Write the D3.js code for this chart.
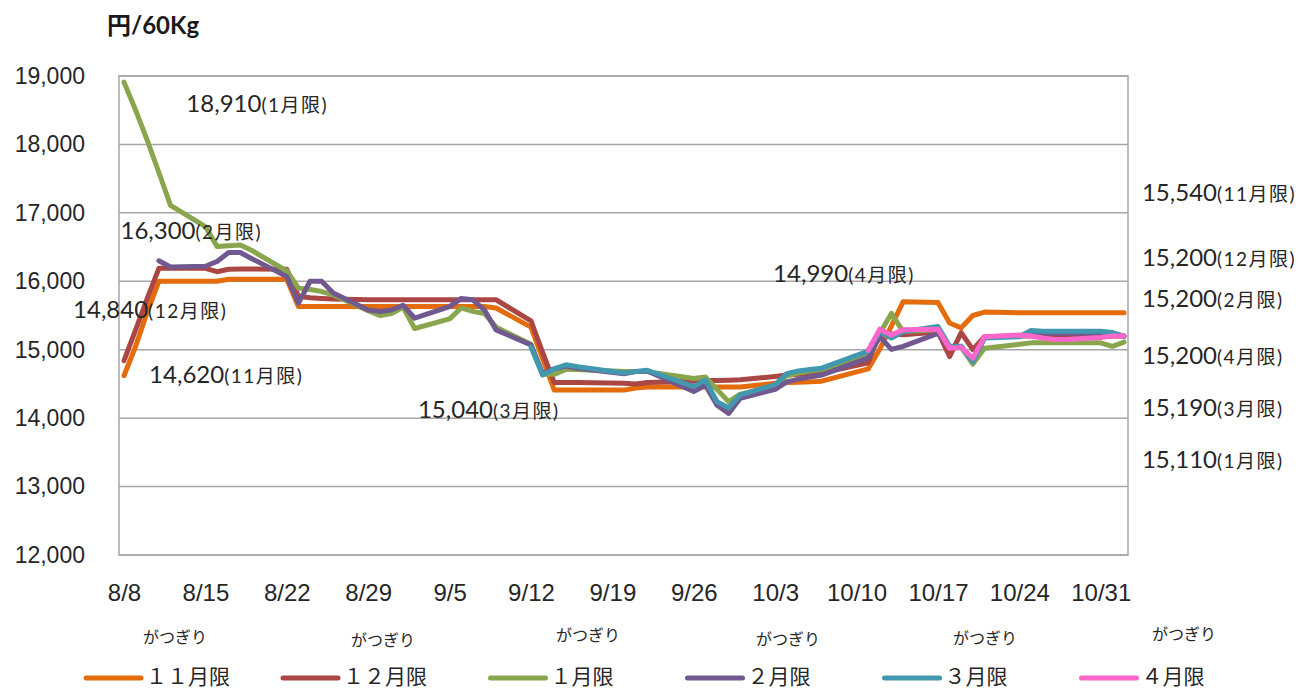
<!DOCTYPE html>
<html lang="ja">
<head>
<meta charset="utf-8">
<title>コメ先物 限月別 価格推移</title>
<script src="https://cdn.jsdelivr.net/npm/d3@7"></script>
<style>
    body { margin: 0; background: #fff; }
    svg { display: block; font-family: Lato, "Noto Sans CJK JP", sans-serif; }
</style>
</head>
<body>
<svg id="chart" width="1303" height="689"></svg>
<script>
// 取引日 (2011年)
const days = ["8/8", "8/9", "8/10", "8/11", "8/12", "8/15", "8/16", "8/17", "8/18", "8/19",
    "8/22", "8/23", "8/24", "8/25", "8/26", "8/29", "8/30", "8/31", "9/1", "9/2",
    "9/5", "9/6", "9/7", "9/8", "9/9", "9/12", "9/13", "9/14", "9/15", "9/16",
    "9/20", "9/21", "9/22", "9/26", "9/27", "9/28", "9/29", "9/30", "10/3", "10/4",
    "10/5", "10/6", "10/7", "10/11", "10/12", "10/13", "10/14", "10/17", "10/18", "10/19",
    "10/20", "10/21", "10/24", "10/25", "10/26", "10/27", "10/28", "10/31", "11/1", "11/2"];

const tickDays = ["8/8", "8/15", "8/22", "8/29", "9/5", "9/12", "9/19", "9/26", "10/3", "10/10", "10/17", "10/24", "10/31"];
const yTicks = [12000, 13000, 14000, 15000, 16000, 17000, 18000, 19000];

const contracts = ["11月限", "12月限", "1月限", "2月限", "3月限", "4月限"];
const startDay = ["8/8", "8/8", "8/8", "8/11", "9/12", "10/11"];

// 円/60Kg
const nov = [14620, 15050, 15550, 16000, 16000, 16000, 16000, 16030, 16030, 16030,
    16030, 15630, 15630, 15630, 15630, 15630, 15630, 15630, 15630, 15630,
    15630, 15630, 15630, 15630, 15610, 15330, 14870, 14410, 14410, 14410,
    14410, 14440, 14455, 14455, 14455, 14455, 14455, 14455, 14510, 14520,
    14525, 14530, 14540, 14720, 15010, 15350, 15700, 15690, 15390, 15320,
    15500, 15550, 15540, 15540, 15540, 15540, 15540, 15540, 15540, 15540];
const dec = [14840, 15290, 15750, 16190, 16190, 16190, 16140, 16175, 16180, 16180,
    16175, 15780, 15760, 15750, 15740, 15730, 15730, 15730, 15730, 15730,
    15730, 15730, 15730, 15730, 15730, 15420, 14960, 14520, 14520, 14520,
    14510, 14500, 14520, 14540, 14550, 14550, 14555, 14560, 14610, 14630,
    14640, 14650, 14660, 14810, 15265, 15230, 15220, 15260, 14900, 15250,
    15000, 15190, 15200, 15200, 15200, 15200, 15200, 15200, 15200, 15200];
const jan = [18910, 18500, 18060, 17590, 17110, 16800, 16510, 16520, 16530, 16450,
    16150, 15900, 15880, 15850, 15800, 15570, 15500, 15530, 15620, 15310,
    15450, 15610, 15560, 15530, 15330, 15080, 14640, 14640, 14710, 14710,
    14680, 14680, 14680, 14580, 14600, 14420, 14240, 14350, 14460, 14620,
    14660, 14690, 14710, 14930, 15240, 15530, 15265, 15290, 15040, 15040,
    14790, 15020, 15080, 15100, 15100, 15100, 15100, 15100, 15050, 15110];
const feb = [16300, 16210, 16220, 16290, 16420, 16420, 16330,
    16070, 15680, 16000, 16000, 15830, 15580, 15560, 15580, 15650, 15460,
    15630, 15750, 15730, 15580, 15290, 15070, 14650, 14720, 14760, 14730,
    14650, 14680, 14690, 14390, 14480, 14190, 14070, 14290, 14420, 14530,
    14570, 14600, 14630, 14880, 15190, 15005, 15050, 15240, 15030, 15040,
    14840, 15180, 15200, 15240, 15240, 15240, 15240, 15240, 15240, 15200];
const mar = [15040, 14630, 14720, 14780, 14750,
    14660, 14680, 14700, 14460, 14560, 14240, 14150, 14340, 14490, 14650,
    14690, 14710, 14730, 14980, 15265, 15170, 15265, 15340, 15050, 15050,
    14825, 15170, 15190, 15280, 15270, 15270, 15270, 15270, 15250, 15190];
const apr = [14990, 15300, 15215, 15290, 15300, 15020, 15035,
    14875, 15190, 15215, 15200, 15170, 15150, 15150, 15180, 15200, 15200];

const colors = ["#E46C0A", "#AA4643", "#89A54E", "#71588F", "#4198AF", "#FF66CC"];

// 初値の注記 (中心位置を日時・価格で指定)
const firstNotes = [
    { contract: "1月限", at: "8/19 11", price: 18550 },
    { contract: "2月限", at: "8/13 19", price: 16700 },
    { contract: "12月限", at: "8/10 06", price: 15540 },
    { contract: "11月限", at: "8/16 19", price: 14590 },
    { contract: "3月限", at: "9/8 09", price: 14090 },
    { contract: "4月限", at: "10/8 22", price: 16070 }
];
// 終値の注記 (右側、左端をそろえる)
const lastAt = "11/3 13";
const lastOrder = ["11月限", "12月限", "2月限", "4月限", "3月限", "1月限"];
const lastPrice = [17260, 16310, 15700, 14880, 14120, 13360];

const noteSpots = [[175, 637], [383, 640], [588, 635], [788, 639], [985, 638], [1184, 634]];

const margin = { top: 76, right: 175, bottom: 134, left: 119 },
    width = 1303 - margin.left - margin.right,
    height = 689 - margin.top - margin.bottom;

const parseDay = d3.utcParse("%Y/%m/%d");
const parseAt = d3.utcParse("%Y/%m/%d %H");
const day = s => parseDay("2011/" + s);
const at = s => parseAt("2011/" + s);

const svg = d3.select("#chart");
const g = svg.append("g").attr("transform", `translate(${margin.left},${margin.top})`);

const x = d3.scaleUtc()
    .domain([day("8/8"), day("11/2")])
    .range([5, width - 4]);

const y = d3.scaleLinear()
    .domain([12000, 19000])
    .range([height, 0]);

// データ
const seriesValues = [nov, dec, jan, feb, mar, apr];
const series = contracts.map((name, i) => {
    const start = days.indexOf(startDay[i]);
    return {
        name: name,
        color: colors[i],
        points: seriesValues[i].map((v, j) => ({ date: day(days[start + j]), v: v }))
    };
});

// グリッド
g.append("g")
    .selectAll("line")
    .data(yTicks)
    .join("line")
    .attr("x1", 0)
    .attr("x2", width)
    .attr("y1", d => y(d))
    .attr("y2", d => y(d))
    .attr("stroke", "#A6A6A6")
    .attr("stroke-width", 1.5);

g.append("rect")
    .attr("width", width)
    .attr("height", height)
    .attr("fill", "none")
    .attr("stroke", "#A6A6A6")
    .attr("stroke-width", 1.5);

// 軸
const yAxis = g.append("g")
    .call(d3.axisLeft(y).tickValues(yTicks).tickFormat(d3.format(",")).tickSize(0).tickPadding(34));
yAxis.select(".domain").remove();
yAxis.selectAll("text").attr("font-size", 23).attr("fill", "#262626").attr("font-family", null);

const xAxis = g.append("g")
    .attr("transform", "translate(0," + height + ")")
    .call(d3.axisBottom(x).tickValues(tickDays.map(day)).tickFormat(d3.utcFormat("%-m/%-d")).tickSize(0).tickPadding(29));
xAxis.select(".domain").remove();
xAxis.selectAll("text").attr("font-size", 24).attr("fill", "#262626").attr("font-family", null);

// 線
const line = d3.line()
    .x(d => x(d.date))
    .y(d => y(d.v));

g.selectAll(".series")
    .data(series)
    .join("path")
    .attr("class", "series")
    .attr("d", d => line(d.points))
    .attr("fill", "none")
    .attr("stroke", d => d.color)
    .attr("stroke-width", 5)
    .attr("stroke-linejoin", "round")
    .attr("stroke-linecap", "round");

// 注記
function priceLabel(sel, value, tag) {
    sel.append("tspan").attr("font-size", 24).text(d3.format(",")(value));
    sel.append("tspan").attr("font-size", 19).style("letter-spacing", "1.5px").text("(" + tag + ")");
}
const byName = name => series.find(s => s.name === name);

firstNotes.forEach(n => {
    const t = g.append("text")
        .attr("x", x(at(n.at)))
        .attr("y", y(n.price))
        .attr("dy", "0.35em")
        .attr("text-anchor", "middle")
        .attr("fill", "#262626");
    priceLabel(t, byName(n.contract).points[0].v, n.contract);
});

lastOrder.forEach((name, i) => {
    const pts = byName(name).points;
    const t = g.append("text")
        .attr("x", x(at(lastAt)))
        .attr("y", y(lastPrice[i]))
        .attr("dy", "0.35em")
        .attr("fill", "#262626");
    priceLabel(t, pts[pts.length - 1].v, name);
});

// タイトル
svg.append("text")
    .attr("x", 107)
    .attr("y", 26)
    .attr("dy", "0.35em")
    .attr("font-size", 24)
    .attr("font-weight", "bold")
    .attr("fill", "#1a1a1a")
    .text("円/60Kg");

svg.append("g")
    .selectAll("text")
    .data(noteSpots)
    .join("text")
    .attr("x", d => d[0])
    .attr("y", d => d[1])
    .attr("dy", "0.35em")
    .attr("text-anchor", "middle")
    .attr("font-size", 16)
    .attr("font-family", "'Noto Sans CJK JP'")
    .attr("fill", "#262626")
    .text("がつぎり");

// 凡例
const wide = s => s.replace(/[0-9]/g, c => String.fromCharCode(c.charCodeAt(0) + 0xFEE0));
const legend = svg.append("g").attr("transform", "translate(0,676)");
series.forEach((s, i) => {
    const item = legend.append("g");
    item.append("line")
        .attr("x1", 0).attr("x2", 55)
        .attr("y1", 2).attr("y2", 2)
        .attr("stroke", s.color)
        .attr("stroke-width", 5)
        .attr("stroke-linecap", "round");
    const t = item.append("text")
        .attr("x", 60)
        .attr("dy", "0.36em")
        .attr("font-size", 21)
        .attr("font-family", "'Noto Sans CJK JP'")
        .attr("fill", "#262626")
        .text(wide(s.name));
    const w = 60 + t.node().getComputedTextLength();
    item.attr("transform", `translate(${158 + 197 * i - w / 2},0)`);
});
</script>
</body>
</html>
